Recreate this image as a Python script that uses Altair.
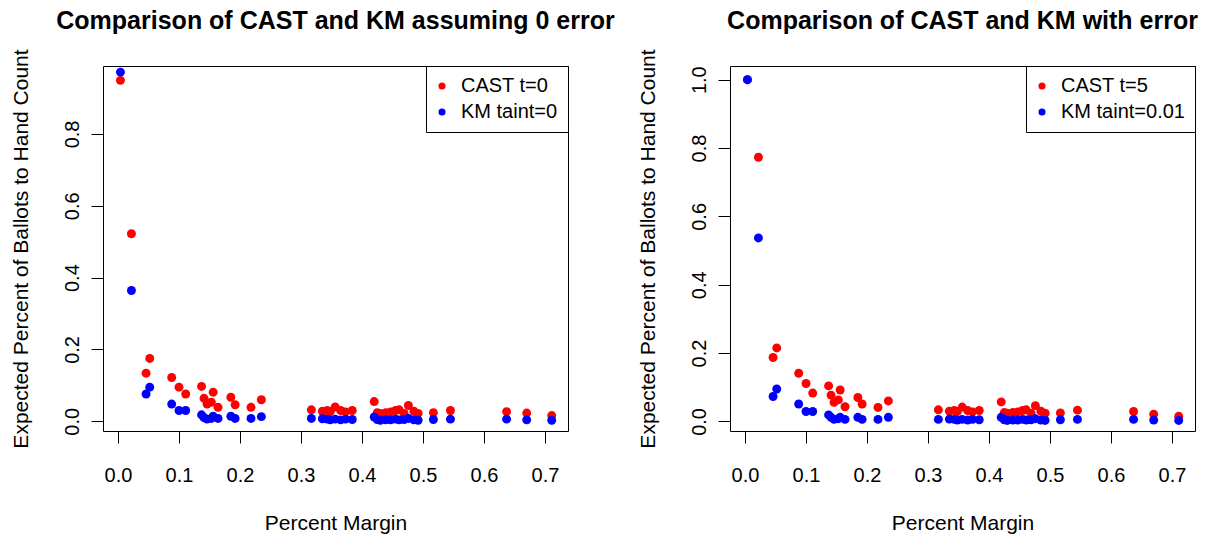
import altair as alt
import pandas as pd

# Percent margin of each contest (shared by both panels)
margin = [0.004, 0.022, 0.046, 0.052, 0.088, 0.100, 0.111, 0.137, 0.141, 0.146,
          0.153, 0.156, 0.164, 0.185, 0.192, 0.218, 0.235, 0.317, 0.335, 0.343,
          0.348, 0.356, 0.365, 0.373, 0.384, 0.420, 0.425, 0.430, 0.439, 0.447,
          0.455, 0.461, 0.469, 0.476, 0.485, 0.492, 0.517, 0.545, 0.637, 0.670,
          0.711]

# Left panel: assuming 0 error
cast_t0 = [0.949, 0.522, 0.134, 0.175, 0.122, 0.095, 0.076, 0.097, 0.064, 0.048,
           0.053, 0.081, 0.039, 0.067, 0.046, 0.039, 0.060, 0.032, 0.028, 0.030,
           0.027, 0.040, 0.030, 0.026, 0.030, 0.055, 0.024, 0.022, 0.024, 0.026,
           0.030, 0.032, 0.022, 0.044, 0.028, 0.022, 0.024, 0.030, 0.027, 0.023,
           0.016]
km_taint0 = [0.972, 0.364, 0.076, 0.095, 0.048, 0.030, 0.030, 0.018, 0.010, 0.006,
             0.008, 0.014, 0.008, 0.014, 0.008, 0.008, 0.013, 0.008, 0.007, 0.006,
             0.004, 0.006, 0.004, 0.006, 0.005, 0.012, 0.005, 0.003, 0.004, 0.004,
             0.006, 0.004, 0.005, 0.008, 0.004, 0.003, 0.005, 0.006, 0.006, 0.004,
             0.003]

# Right panel: with error
cast_t5 = [1.000, 0.773, 0.187, 0.215, 0.141, 0.111, 0.083, 0.104, 0.077, 0.056,
           0.063, 0.092, 0.043, 0.070, 0.051, 0.041, 0.060, 0.034, 0.030, 0.032,
           0.029, 0.042, 0.032, 0.028, 0.032, 0.057, 0.026, 0.024, 0.026, 0.028,
           0.032, 0.034, 0.024, 0.046, 0.030, 0.024, 0.025, 0.033, 0.029, 0.021,
           0.015]
km_taint001 = [1.000, 0.537, 0.073, 0.095, 0.051, 0.029, 0.029, 0.019, 0.012, 0.006,
               0.008, 0.012, 0.006, 0.012, 0.006, 0.006, 0.012, 0.006, 0.007, 0.006,
               0.004, 0.006, 0.004, 0.006, 0.005, 0.012, 0.005, 0.003, 0.004, 0.004,
               0.006, 0.004, 0.005, 0.008, 0.004, 0.003, 0.005, 0.006, 0.006, 0.004,
               0.003]

x_ticks = [0.0, 0.1, 0.2, 0.3, 0.4, 0.5, 0.6, 0.7]
left_y_ticks = [0.0, 0.2, 0.4, 0.6, 0.8]
right_y_ticks = [0.0, 0.2, 0.4, 0.6, 0.8, 1.0]

FONT = "Liberation Sans"


def panel(cast, km, cast_label, km_label, title, ydomain, yticks):
    n = len(margin)
    df = pd.DataFrame({
        "margin": margin + margin,
        "value": cast + km,
        "series": [cast_label] * n + [km_label] * n,
        "order": list(range(2 * n)),
    })
    return alt.Chart(df, title=alt.TitleParams(
        text=title, fontSize=25, font=FONT, fontWeight="bold", color="black",
        anchor="middle", frame="group", offset=-5, baseline="alphabetic",
    )).mark_circle(size=80, opacity=1).encode(
        x=alt.X("margin:Q",
                scale=alt.Scale(domain=[-0.0246, 0.7377], nice=False, zero=False),
                axis=alt.Axis(values=x_ticks, format=".1f", title="Percent Margin",
                              labelPadding=22, titlePadding=27)),
        y=alt.Y("value:Q",
                scale=alt.Scale(domain=ydomain, nice=False, zero=False),
                axis=alt.Axis(values=yticks, format=".1f",
                              title="Expected Percent of Ballots to Hand Count",
                              labelAngle=270, labelPadding=9, titlePadding=31)),
        color=alt.Color("series:N",
                        scale=alt.Scale(domain=[cast_label, km_label],
                                        range=["#FF0000", "#0000FF"]),
                        legend=alt.Legend(title=None, orient="top-right", offset=0,
                                          strokeColor="black", fillColor="white",
                                          padding=10, symbolType="circle",
                                          symbolSize=50, symbolStrokeWidth=0,
                                          symbolOffset=-4, labelOffset=9,
                                          labelFontSize=20, labelFont=FONT,
                                          labelColor="black", rowPadding=6,
                                          cornerRadius=0)),
        order=alt.Order("order:Q"),
    ).properties(width=465, height=365)


left = panel(cast_t0, km_taint0, "CAST t=0", "KM taint=0",
             "Comparison of CAST and KM assuming 0 error", [-0.027, 0.989], left_y_ticks)
right = panel(cast_t5, km_taint001, "CAST t=5", "KM taint=0.01",
              "Comparison of CAST and KM with error", [-0.028, 1.040], right_y_ticks)

chart = alt.hconcat(left, right, spacing=162, bounds="flush").resolve_scale(
    color="independent"
).properties(
    padding={"left": 1, "top": 0, "right": 0, "bottom": 0}
).configure(
    background="white"
).configure_view(
    stroke="black", strokeWidth=1
).configure_axis(
    labelFont=FONT, titleFont=FONT, labelFontSize=20, titleFontSize=21,
    titleFontWeight="normal", labelColor="black", titleColor="black",
    tickColor="black", tickSize=12, tickWidth=1, grid=False, domain=False,
)

chart.save("out.html", embed_options={"renderer": "svg", "actions": False})
